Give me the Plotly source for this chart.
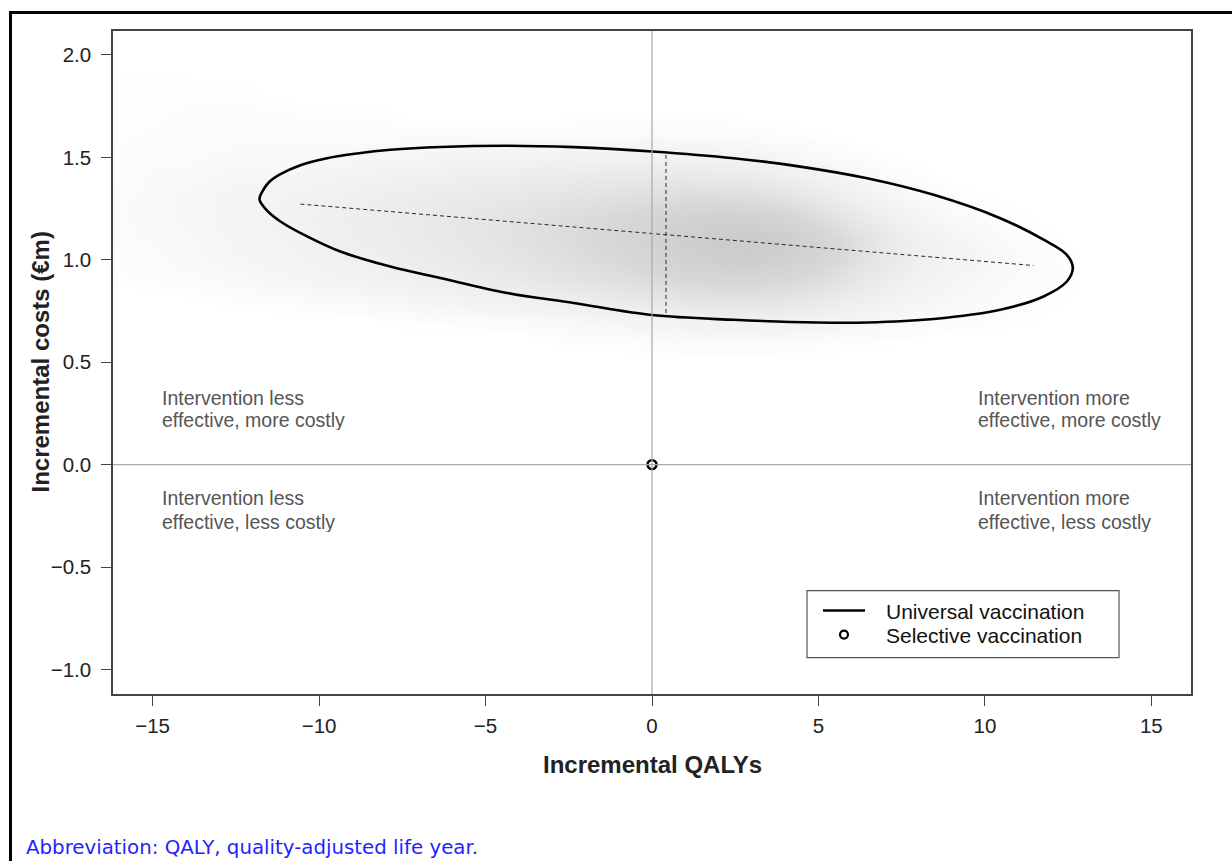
import plotly.graph_objects as go

# ---------------- data ----------------
# Universal vaccination: ellipse outline, starting at the top
ellipse_x = [0.0, 2.45, 4.45, 6.46, 8.46, 10.46, 11.76, 12.46, 12.64, 12.46, 11.76, 10.46,
             8.46, 6.46, 4.95, 2.45, 0.0, -2.35, -4.35, -6.36, -7.86, -9.36, -10.36, -11.16,
             -11.56, -11.79, -11.68, -11.50, -11.16, -10.56, -9.76, -8.86, -7.86, -6.36, -4.35,
             -2.35, 0.0]
ellipse_y = [1.529, 1.496, 1.455, 1.398, 1.317, 1.203, 1.098, 1.024, 0.960, 0.894, 0.821, 0.756,
             0.711, 0.694, 0.694, 0.707, 0.730, 0.789, 0.838, 0.911, 0.967, 1.040, 1.114, 1.187,
             1.240, 1.295, 1.340, 1.380, 1.418, 1.462, 1.496, 1.519, 1.537, 1.551, 1.557,
             1.550, 1.529]

# ellipse axes (dashed)
major_x = [-10.56, 11.46]
major_y = [1.272, 0.972]
minor_x = [0.42, 0.42]
minor_y = [1.512, 0.732]

# Selective vaccination point
selective_x = [0.0]
selective_y = [0.0]

# density of the simulation cloud (relative, 0-10)
cloud_x = list(range(-16, 17))
cloud_y = [0.5, 0.6, 0.7, 0.8, 0.9, 1.0, 1.1, 1.2, 1.3, 1.4, 1.5, 1.6, 1.7, 1.8, 1.9, 2.0]
cloud_density = [
    [0, 0, 0, 0, 0, 0, 0, 0, 0, 0, 0, 0, 0, 0, 0, 0, 0.1, 0.1, 0.1, 0.1, 0, 0, 0, 0, 0, 0, 0, 0, 0, 0, 0, 0, 0],
    [0, 0, 0, 0, 0, 0, 0, 0, 0, 0, 0, 0, 0, 0.2, 0.3, 0.3, 0.4, 0.5, 0.5, 0.5, 0.5, 0.4, 0.3, 0.2, 0.1, 0, 0, 0, 0, 0, 0, 0, 0],
    [0, 0, 0, 0, 0, 0, 0, 0, 0.2, 0.3, 0.3, 0.4, 0.5, 0.6, 0.8, 1.0, 1.2, 1.4, 1.6, 1.6, 1.5, 1.3, 1.0, 0.7, 0.5, 0.4, 0.3, 0.2, 0.1, 0, 0, 0, 0],
    [0, 0, 0.1, 0.2, 0.3, 0.4, 0.5, 0.6, 0.8, 1.0, 1.2, 1.4, 1.7, 2.0, 2.4, 2.8, 3.2, 3.6, 3.8, 3.8, 3.6, 3.0, 2.2, 1.5, 1.0, 0.7, 0.5, 0.3, 0.2, 0.1, 0, 0, 0],
    [0.2, 0.3, 0.4, 0.5, 0.7, 0.9, 1.1, 1.3, 1.6, 1.9, 2.2, 2.6, 3.0, 3.5, 4.0, 4.6, 5.3, 6.0, 6.4, 6.4, 6.0, 5.0, 3.6, 2.4, 1.5, 1.0, 0.7, 0.4, 0.3, 0.1, 0, 0, 0],
    [0.3, 0.4, 0.6, 0.8, 1.0, 1.2, 1.5, 1.8, 2.1, 2.5, 2.9, 3.4, 3.9, 4.5, 5.2, 6.0, 7.0, 8.0, 8.8, 9.0, 8.4, 7.0, 5.0, 3.2, 2.0, 1.3, 0.9, 0.5, 0.3, 0.1, 0, 0, 0],
    [0.4, 0.5, 0.7, 0.9, 1.2, 1.4, 1.7, 2.1, 2.4, 2.8, 3.2, 3.7, 4.3, 5.0, 5.7, 6.6, 7.8, 9.0, 9.8, 10.0, 9.2, 7.4, 5.0, 3.0, 1.8, 1.1, 0.7, 0.4, 0.2, 0.1, 0, 0, 0],
    [0.4, 0.6, 0.8, 1.0, 1.3, 1.5, 1.8, 2.2, 2.5, 2.9, 3.3, 3.7, 4.2, 4.8, 5.4, 6.1, 7.0, 7.8, 8.2, 8.0, 7.0, 5.2, 3.4, 2.0, 1.1, 0.6, 0.4, 0.2, 0.1, 0, 0, 0, 0],
    [0.4, 0.6, 0.8, 1.0, 1.2, 1.4, 1.6, 1.9, 2.2, 2.5, 2.8, 3.1, 3.4, 3.8, 4.2, 4.6, 5.0, 5.3, 5.3, 5.0, 4.2, 3.0, 1.9, 1.1, 0.6, 0.3, 0.2, 0.1, 0, 0, 0, 0, 0],
    [0.3, 0.5, 0.6, 0.8, 0.9, 1.0, 1.2, 1.4, 1.6, 1.8, 2.0, 2.2, 2.4, 2.6, 2.8, 3.0, 3.1, 3.1, 2.9, 2.6, 2.1, 1.5, 0.9, 0.5, 0.3, 0.1, 0, 0, 0, 0, 0, 0, 0],
    [0.3, 0.4, 0.4, 0.5, 0.6, 0.6, 0.7, 0.8, 0.9, 1.0, 1.1, 1.2, 1.3, 1.4, 1.5, 1.5, 1.6, 1.5, 1.4, 1.2, 0.9, 0.6, 0.4, 0.2, 0.1, 0, 0, 0, 0, 0, 0, 0, 0],
    [0.2, 0.3, 0.3, 0.4, 0.4, 0.4, 0.4, 0.4, 0.4, 0.4, 0.4, 0.4, 0.4, 0.5, 0.5, 0.5, 0.6, 0.5, 0.5, 0.4, 0.3, 0.2, 0.1, 0, 0, 0, 0, 0, 0, 0, 0, 0, 0],
    [0.2, 0.2, 0.3, 0.3, 0.3, 0.3, 0.2, 0.2, 0.2, 0.1, 0.1, 0.1, 0.1, 0.1, 0.2, 0.2, 0.2, 0.2, 0.2, 0.1, 0.1, 0, 0, 0, 0, 0, 0, 0, 0, 0, 0, 0, 0],
    [0.2, 0.2, 0.2, 0.2, 0.2, 0.1, 0.1, 0.1, 0.1, 0, 0, 0, 0, 0, 0, 0, 0, 0, 0, 0, 0, 0, 0, 0, 0, 0, 0, 0, 0, 0, 0, 0, 0],
    [0.15, 0.15, 0.15, 0.1, 0.1, 0, 0, 0, 0, 0, 0, 0, 0, 0, 0, 0, 0, 0, 0, 0, 0, 0, 0, 0, 0, 0, 0, 0, 0, 0, 0, 0, 0],
    [0.1, 0.1, 0.1, 0, 0, 0, 0, 0, 0, 0, 0, 0, 0, 0, 0, 0, 0, 0, 0, 0, 0, 0, 0, 0, 0, 0, 0, 0, 0, 0, 0, 0, 0],
]

x_ticks = [-15, -10, -5, 0, 5, 10, 15]
y_ticks = [-1.0, -0.5, 0.0, 0.5, 1.0, 1.5, 2.0]

quadrant_text = ["Intervention less", "effective, more costly",
                 "Intervention less", "effective, less costly",
                 "Intervention more", "effective, more costly",
                 "Intervention more", "effective, less costly"]
quadrant_x = [-14.74, -14.74, -14.74, -14.74, 9.75, 9.75, 9.75, 9.75]
quadrant_y = [0.330, 0.220, -0.162, -0.277, 0.330, 0.220, -0.162, -0.277]

legend_labels = ["Universal vaccination", "Selective vaccination"]

FONT = "Liberation Sans, Arial, sans-serif"

# plot-area geometry (pixels) used to place page-level items
PL, PR, PT, PB = 113, 1191, 31, 694.5
def px(xp):
    return (xp - PL) / (PR - PL)
def py(yp):
    return (PB - yp) / (PB - PT)

fig = go.Figure()

fig.add_trace(go.Heatmap(
    x=cloud_x, y=cloud_y, z=cloud_density, zmin=0, zmax=10, zsmooth="best",
    colorscale=[[0, "rgba(255,255,255,0)"], [0.03, "rgb(252,252,252)"],
                [0.1, "rgb(245,245,245)"], [0.3, "rgb(233,233,233)"],
                [0.6, "rgb(216,216,216)"], [1, "rgb(203,203,203)"]],
    showscale=False, hoverinfo="skip"))

fig.add_trace(go.Scatter(x=major_x, y=major_y, mode="lines", showlegend=False,
                         line=dict(color="#2a2a2a", width=1, dash="4px,3px")))
fig.add_trace(go.Scatter(x=minor_x, y=minor_y, mode="lines", showlegend=False,
                         line=dict(color="#2a2a2a", width=1, dash="4px,3px")))

fig.add_trace(go.Scatter(x=ellipse_x, y=ellipse_y, mode="lines", name=legend_labels[0],
                         showlegend=False,
                         line=dict(color="black", width=2.6, shape="spline", smoothing=1.0)))
fig.add_trace(go.Scatter(x=selective_x, y=selective_y, mode="markers", name=legend_labels[1],
                         showlegend=False,
                         marker=dict(symbol="circle-open", size=9, color="black",
                                     line=dict(width=2.4, color="black"))))

for t, xv, yv in zip(quadrant_text, quadrant_x, quadrant_y):
    fig.add_annotation(x=xv, y=yv, xref="x", yref="y", text=t, showarrow=False,
                       xanchor="left", yanchor="middle", height=21, borderpad=0,
                       font=dict(family=FONT, size=19.5, color="#555555"))

# zero lines
fig.add_shape(type="line", xref="x", yref="paper", x0=0, x1=0, y0=0, y1=1,
              line=dict(color="#a8a8a8", width=1.2), layer="above")
fig.add_shape(type="line", xref="paper", yref="y", x0=0, x1=1, y0=0, y1=0,
              line=dict(color="#a8a8a8", width=1.2), layer="above")

# legend box (drawn by hand to match the reference spacing)
fig.add_shape(type="rect", xref="paper", yref="paper", x0=px(807), x1=px(1119),
              y0=py(658), y1=py(591), line=dict(color="#555555", width=1.2),
              fillcolor="white", layer="above")
fig.add_shape(type="line", xref="paper", yref="paper", x0=px(823), x1=px(865),
              y0=py(611), y1=py(611), line=dict(color="black", width=2.6))
fig.add_shape(type="circle", xref="paper", yref="paper", x0=px(840), x1=px(848),
              y0=py(639), y1=py(631), line=dict(color="black", width=2.2))
for lab, yy in zip(legend_labels, [611, 635]):
    fig.add_annotation(xref="paper", yref="paper", x=px(885), y=py(yy), text=lab,
                       showarrow=False, xanchor="left", yanchor="middle",
                       height=22, borderpad=0, valign="middle",
                       font=dict(family=FONT, size=21, color="#111111"))

# page border
fig.add_shape(type="rect", xref="paper", yref="paper",
              x0=px(10.5), x1=px(1245), y0=py(875), y1=py(12.5),
              line=dict(color="black", width=3), fillcolor="rgba(0,0,0,0)")

# axis titles
fig.add_annotation(xref="paper", yref="paper", x=0.5, y=py(765), showarrow=False,
                   text="<b>Incremental QALYs</b>", xanchor="center", yanchor="middle",
                   font=dict(family=FONT, size=24, color="#222222"))
fig.add_annotation(xref="paper", yref="paper", x=px(40), y=0.5, showarrow=False,
                   text="<b>Incremental costs (€m)</b>", textangle=-90,
                   xanchor="center", yanchor="middle",
                   font=dict(family=FONT, size=24, color="#222222"))

# caption
fig.add_annotation(xref="paper", yref="paper", x=px(24), y=py(848), showarrow=False,
                   text="Abbreviation: QALY, quality-adjusted life year.",
                   xanchor="left", yanchor="middle",
                   font=dict(family="DejaVu Sans, Verdana, sans-serif", size=19.8, color="#1f1fff"))

axis_common = dict(showgrid=False, zeroline=False, showline=True, linecolor="#444444",
                   linewidth=1.5, mirror=True, ticks="outside", ticklen=10, tickwidth=1.2,
                   tickcolor="#444444", tickfont=dict(family=FONT, size=20.5, color="#222222"))

fig.update_xaxes(range=[-16.19, 16.19], tickvals=x_ticks, ticklabelstandoff=3, **axis_common)
fig.update_yaxes(range=[-1.12, 2.117], tickvals=y_ticks, tickformat=".1f",
                 ticklabelstandoff=6, **axis_common)

fig.update_layout(
    width=1232, height=861,
    margin=dict(l=PL, r=1232 - PR, t=PT, b=861 - PB),
    paper_bgcolor="white", plot_bgcolor="white",
    showlegend=False,
)

fig.write_html("out.html", config={"displayModeBar": False},
               post_script="document.body.style.margin='0';document.body.style.overflow='hidden';")
